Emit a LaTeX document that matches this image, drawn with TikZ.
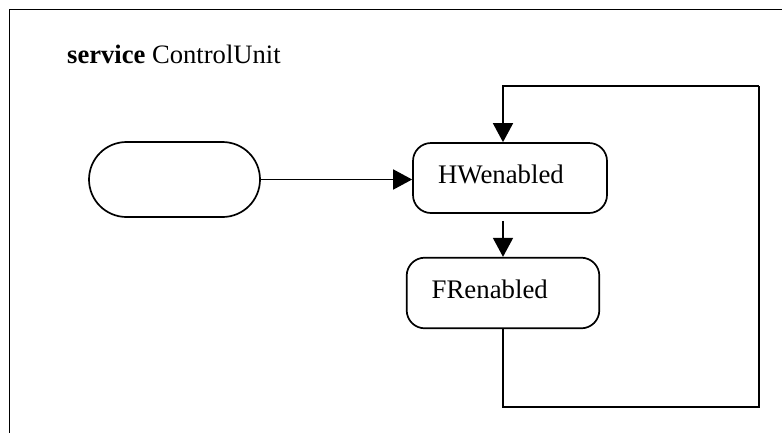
\documentclass[tikz,border=0pt]{standalone}
\usepackage{fontspec}
\setmainfont{Liberation Serif}
\usetikzlibrary{arrows.meta}

\begin{document}
\begin{tikzpicture}[x=1pt, y=-1pt,
  line/.style={line width=1.7pt, black},
  arr/.style={line, -{Triangle[length=19pt, width=20pt]}},
  statebox/.style={line, draw, rectangle, rounded corners=18pt,
    font=\fontsize{26.8}{32}\selectfont, align=left,
    inner xsep=25pt, inner ysep=0pt, text height=18.5pt, text depth=8.5pt},
  startbox/.style={line, draw, rectangle, rounded corners=37.5pt,
    minimum width=171pt, minimum height=75pt, inner sep=0pt}]
  \useasboundingbox (0,0) rectangle (782,432);
  \clip (0,0) rectangle (782,432);

  % outer frame, open to the right and bottom
  \draw[line width=1.8pt] (9.5,440) -- (9.5,9.5) -- (790,9.5);

  % title
  \node[anchor=base west, inner sep=0pt, font=\fontsize{26.6}{32}\selectfont]
    (title) at (67,63.3) {\textbf{service} ControlUnit};

  % states
  \node[statebox, text width=144pt, minimum height=70pt] (hw) at (510,178) {HWenabled};
  \node[statebox, text width=142.6pt, minimum height=70.6pt] (fr) at (503,293) {FRenabled};
  \node[startbox] (start) at (174.5,179.5) {};

  % loop corners
  \coordinate (lb) at (759,406.7);
  \coordinate (lt) at (759,85.7);

  % transitions
  \draw[arr] (start.east) -- (start.east -| hw.west);
  \draw[arr, shorten <=7pt] (hw.south -| fr.north) -- (fr.north);
  \draw[line] (fr.south) |- (lb) -- (lt);
  \draw[arr] (lt) -| (fr.north |- hw.north);
\end{tikzpicture}
\end{document}
